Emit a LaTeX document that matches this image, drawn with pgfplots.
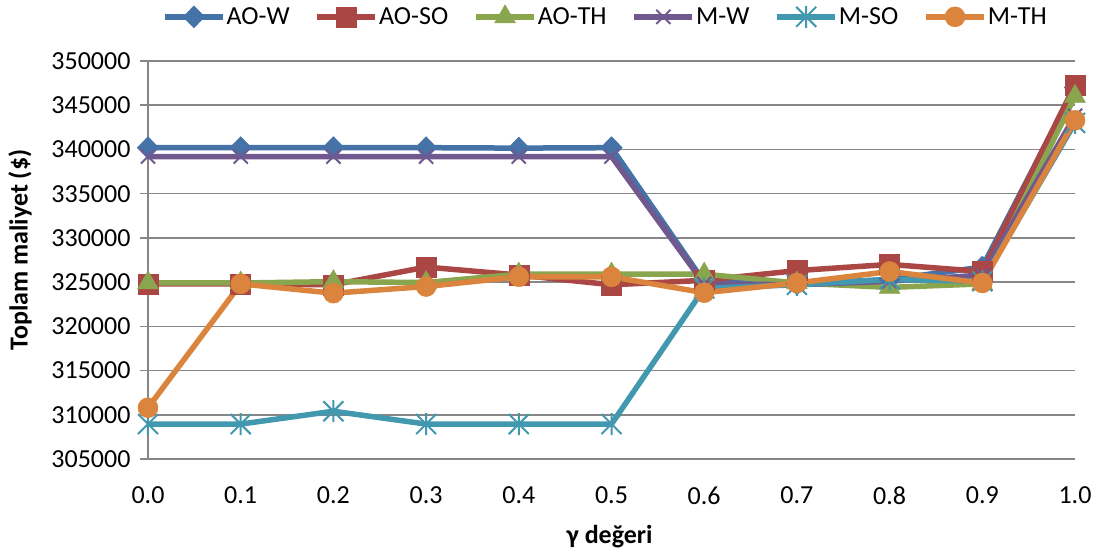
\documentclass[border=0pt]{standalone}
\usepackage{fontspec}
\setmainfont{Carlito}
\usepackage{pgfplots}
\pgfplotsset{compat=1.18}

\definecolor{gridgray}{HTML}{868686}
\definecolor{cAOW}{HTML}{4572A7}
\definecolor{cAOSO}{HTML}{AA4643}
\definecolor{cAOTH}{HTML}{89A54E}
\definecolor{cMW}{HTML}{71588F}
\definecolor{cMSO}{HTML}{4198AF}
\definecolor{cMTH}{HTML}{DB843D}

% star marker: an x crossed by a vertical bar
\pgfdeclareplotmark{xbar}{%
  \pgfpathmoveto{\pgfqpoint{-\pgfplotmarksize}{-\pgfplotmarksize}}%
  \pgfpathlineto{\pgfqpoint{\pgfplotmarksize}{\pgfplotmarksize}}%
  \pgfpathmoveto{\pgfqpoint{-\pgfplotmarksize}{\pgfplotmarksize}}%
  \pgfpathlineto{\pgfqpoint{\pgfplotmarksize}{-\pgfplotmarksize}}%
  \pgfpathmoveto{\pgfqpoint{0pt}{-1.1\pgfplotmarksize}}%
  \pgfpathlineto{\pgfqpoint{0pt}{1.1\pgfplotmarksize}}%
  \pgfusepathqstroke}

\begin{document}
\begin{tikzpicture}[font=\fontsize{26bp}{31bp}\selectfont]
\useasboundingbox (-148bp,-93bp) rectangle (957bp,459bp);
\begin{axis}[
  scale only axis,
  width=927bp, height=398bp,
  xmin=0, xmax=1, ymin=305000, ymax=350000,
  clip=false,
  axis lines=left,
  axis line style={draw=gridgray, line width=1.5bp, -},
  ymajorgrids,
  grid style={draw=gridgray, line width=1.5bp},
  ytick={305000,310000,...,350000},
  scaled y ticks=false,
  yticklabel={\pgfmathprintnumber[fixed,precision=0,1000 sep={}]{\tick}},
  xtick={0,0.1,...,1.0},
  xticklabels={0.0,0.1,0.2,0.3,0.4,0.5,0.6,0.7,0.8,0.9,1.0},
  tick align=outside,
  major tick length=8bp,
  ytick style={draw=gridgray, line width=1.5bp},
  xtick style={draw=none},
  /pgf/number format/assume math mode=true,
  /pgf/number format/1000 sep={},
  yticklabel style={xshift=-6bp},
  xticklabel style={yshift=-16bp},
  xlabel={\bfseries γ değeri},
  ylabel={\bfseries Toplam maliyet (\$)},
  every axis x label/.style={at={(axis description cs:0.498,-0.196)}, anchor=center},
  every axis y label/.style={at={(axis description cs:-0.138,0.525)}, anchor=center, rotate=90},
  legend columns=6,
  legend style={draw=none, fill=none, at={(axis description cs:0.493,1.112)}, anchor=center,
    nodes={inner xsep=1bp, inner ysep=2bp},
    /tikz/every even column/.append style={column sep=24bp}},
  legend image code/.code={\draw[mark repeat=2, mark phase=2, #1]
    plot coordinates {(0bp,0bp) (29bp,0bp) (58bp,0bp)};},
]
% AO-W
\addplot[cAOW, line width=5.5bp, mark=diamond*, mark size=11bp, mark options={xscale=1.3, solid, line width=0.5bp}]
  coordinates {(0,340200) (0.1,340200) (0.2,340200) (0.3,340200) (0.4,340150) (0.5,340200)
               (0.6,325000) (0.7,324800) (0.8,325300) (0.9,326700) (1.0,347000)};
\addlegendentry{AO-W}
% AO-SO
\addplot[cAOSO, line width=5.5bp, mark=square*, mark size=10bp, mark options={solid, line width=0.5bp}]
  coordinates {(0,324800) (0.1,324800) (0.2,324700) (0.3,326700) (0.4,325800) (0.5,324700)
               (0.6,325200) (0.7,326300) (0.8,327000) (0.9,326200) (1.0,347300)};
\addlegendentry{AO-SO}
% AO-TH
\addplot[cAOTH, line width=5.5bp, mark=triangle*, mark size=12bp, mark options={solid, line width=0.5bp}]
  coordinates {(0,324900) (0.1,324900) (0.2,325050) (0.3,324950) (0.4,325900) (0.5,325900)
               (0.6,325900) (0.7,324900) (0.8,324400) (0.9,324800) (1.0,346000)};
\addlegendentry{AO-TH}
% M-W
\addplot[cMW, line width=5.5bp, mark=x, mark size=10bp, mark options={solid, line width=2bp}]
  coordinates {(0,339200) (0.1,339200) (0.2,339200) (0.3,339200) (0.4,339200) (0.5,339200)
               (0.6,324800) (0.7,324700) (0.8,325100) (0.9,325800) (1.0,343800)};
\addlegendentry{M-W}
% M-SO
\addplot[cMSO, line width=5.5bp, mark=xbar, mark size=10bp, mark options={solid, line width=2bp}]
  coordinates {(0,308950) (0.1,308950) (0.2,310400) (0.3,308950) (0.4,308950) (0.5,308950)
               (0.6,324300) (0.7,324700) (0.8,325300) (0.9,325100) (1.0,343000)};
\addlegendentry{M-SO}
% M-TH
\addplot[cMTH, line width=5.5bp, mark=*, mark size=10bp, mark options={solid, line width=0.5bp}]
  coordinates {(0,310800) (0.1,324800) (0.2,323750) (0.3,324500) (0.4,325600) (0.5,325600)
               (0.6,323800) (0.7,324900) (0.8,326200) (0.9,324900) (1.0,343300)};
\addlegendentry{M-TH}
\end{axis}
\end{tikzpicture}
\end{document}
